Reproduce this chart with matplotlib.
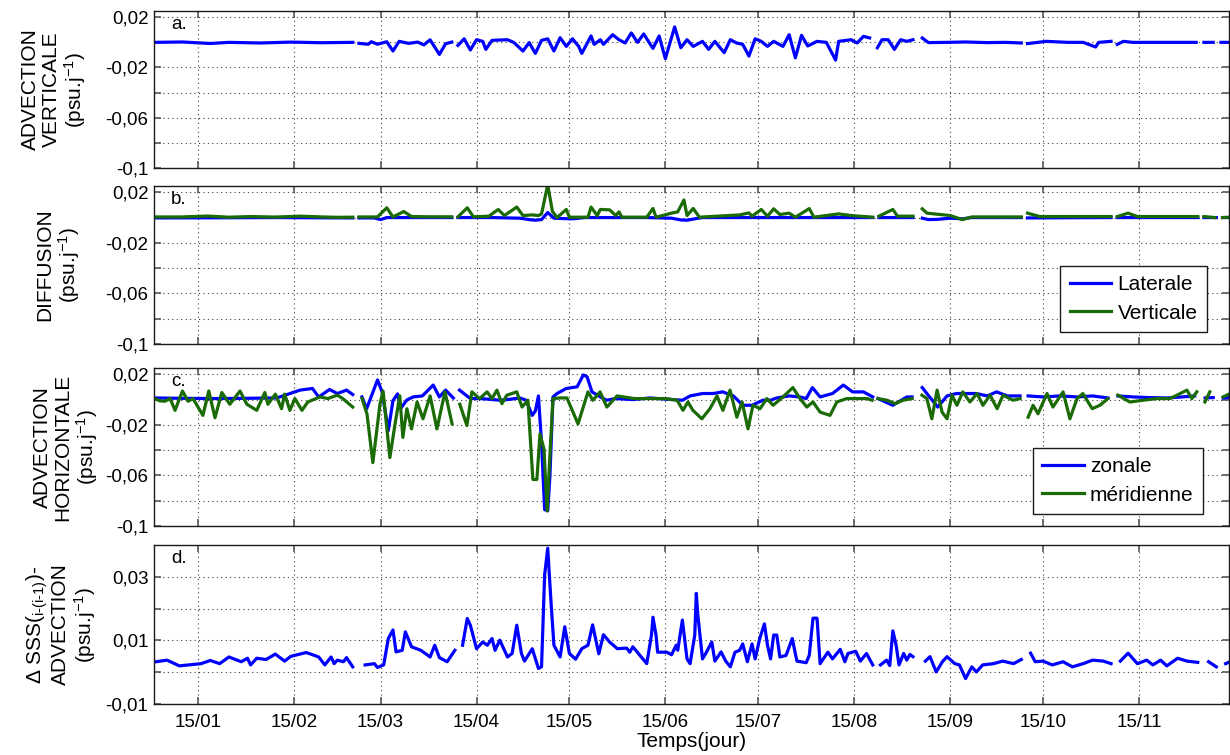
import numpy as np
import matplotlib
matplotlib.use("Agg")
import matplotlib.pyplot as plt

plt.rcParams['font.family'] = ['Liberation Sans', 'DejaVu Sans']
plt.rcParams['mathtext.default'] = 'regular'

nan = np.nan

# x axis: day of year, ticks on the 15th of each month
tick_days = [15, 46, 74, 105, 135, 166, 196, 227, 258, 288, 319]
tick_labels = ['15/01', '15/02', '15/03', '15/04', '15/05', '15/06',
               '15/07', '15/08', '15/09', '15/10', '15/11']

# ---------------------------
# a. vertical advection (day, psu/day), nan = missing days
# ---------------------------
adv_vert = [
    (1, 0), (10, 0.0003), (19, -0.0009), (25, 0), (35, -0.0005), (45, 0.0002), (55, -0.0003), (65, 0), (66, nan),
    (67, -0.0008), (70, -0.0015), (71, 0.0005), (73, -0.0015), (76, 0.0005), (78, -0.0069), (80, 0.0008),
    (83, -0.0008), (86, 0.0002), (88, -0.002), (90, 0.002), (93, -0.0096), (95, -0.0011), (97, 0.0002), (98, nan),
    (99, -0.0024), (101, 0.0028), (103, -0.0061), (105, 0.0021), (107, 0.0008), (108, -0.0056), (110, 0.0016),
    (115, 0.0021), (117, 0), (120, -0.0069), (122, -0.0002), (124, -0.0088), (126, 0.0016), (128, 0.0028),
    (130, -0.0069), (132, 0.0037), (134, -0.0032), (136, 0.0028), (138, -0.0032), (139, -0.0088), (142, 0.0051),
    (143, -0.0016), (145, 0.0021), (146, -0.0016), (149, 0.0061), (151, 0.0021), (153, -0.0005), (155, 0.0075),
    (157, 0), (159, 0.0067), (162, -0.0048), (164, 0.0051), (166, -0.013), (169, 0.0123), (171, -0.0043),
    (173, 0.0021), (175, -0.0032), (178, 0.0008), (180, -0.0056), (182, 0.0008), (185, -0.0082), (187, 0.0021),
    (189, -0.0005), (191, -0.0016), (193, -0.0109), (195, 0.0028), (197, 0.0008), (199, -0.0032), (201, 0.0008),
    (204, -0.0032), (206, 0.0061), (208, -0.0123), (210, 0.0056), (212, -0.0029), (215, 0.0008), (218, 0),
    (221, -0.0141), (222, 0.0008), (226, 0.0021), (228, -0.0005), (230, 0.0048), (232, 0.0035), (233.5, nan),
    (234.5, -0.0043), (236, 0.0021), (238, 0.0021), (240, -0.0056), (242, 0.0021), (244, 0.0008), (246, 0.0021), (247, nan),
    (249, 0.0035), (251, -0.0002), (257, 0), (263, 0.0003), (270, -0.0002), (276, 0), (281, -0.0005), (282, nan),
    (283, -0.001), (289, 0.0008), (296, 0), (301, 0), (305, -0.0037), (306, 0), (310, 0.0008), (311, nan),
    (312, -0.0016), (314, 0.0008), (317, 0), (324, 0), (330, 0), (337.5, 0), (338.5, nan),
    (340, 0), (343, 0), (344.5, nan), (345.5, 0), (348.5, 0),
]

# ---------------------------
# b. diffusion
# ---------------------------
diff_lat = [
    (1, -0.0003), (20, -0.0002), (40, 0), (55, -0.0002), (65, -0.0003), (66, nan),
    (67, -0.0003), (72, -0.0003), (74, -0.0016), (76, 0), (90, 0), (97, 0), (98, nan),
    (99, 0), (110, 0), (119, -0.0005), (122, -0.0016), (124, -0.0021), (126, -0.0016), (128, 0.004),
    (130, -0.0005), (135, -0.001), (137, -0.0008), (140, 0), (160, 0), (168, -0.0005), (171, -0.0019),
    (173, -0.0021), (176, -0.0008), (178, 0), (200, 0), (215, 0), (233, 0), (233.5, nan),
    (235, 0), (246, 0), (247, nan), (249, -0.0005), (251, -0.0016), (254, -0.0014), (258, -0.0005),
    (262, -0.001), (265, 0), (281, 0), (282, nan), (283, -0.0003), (310, 0), (311, nan),
    (312, 0), (338, 0), (338.5, nan), (340, 0), (344, 0), (344.5, nan), (346, 0), (348.5, 0),
]
diff_vert = [
    (1, 0.0005), (10, 0.0005), (18, 0.0012), (25, 0.0003), (32, 0.0008), (40, 0.0004), (48, 0.0011),
    (55, 0.0005), (60, 0.0002), (65, 0.0003), (66, nan),
    (67, 0.0005), (73, 0.0005), (76, 0.0077), (78, 0.0005), (81.5, 0.0048), (84, 0.0008), (90, 0.0006),
    (97, 0.0006), (98, nan),
    (99, 0.0006), (102, 0.0077), (104, 0.0006), (109, 0.0011), (112, 0.0064), (114, 0.0016), (118, 0.0083),
    (120, 0.0016), (123, 0.0021), (125, 0.0016), (126, 0.0029), (128, 0.0259), (129.5, 0.005), (131, 0),
    (134, 0.0064), (135, 0.0003), (141, 0.0003), (142, 0.0083), (144, 0.0016), (145, 0.0064), (148, 0.0061),
    (150, 0.0016), (151, 0.0045), (152, 0.0003), (160, 0.0003), (162, 0.0072), (163, 0.0003), (168, 0.0035),
    (170, 0.0045), (172, 0.0139), (173, 0.0016), (175, 0.0072), (177, 0.0003), (190, 0.0021), (193, 0.0037),
    (194, 0.0011), (197, 0.0064), (199, 0.0011), (201, 0.0069), (203, 0.0024), (206, 0.0035), (208, 0.0003),
    (212.5, 0.0071), (214, 0.0003), (222, 0.0029), (226, 0.0016), (233, 0.0003), (233.5, nan),
    (235, 0.0011), (239.5, 0.0064), (241, 0.0011), (246, 0.0011), (247, nan),
    (249, 0.0069), (250.5, 0.0035), (258, 0.0016), (262, -0.0016), (265, 0.0005), (281, 0.0005), (282, nan),
    (283, 0.0035), (287, 0.0008), (310, 0.0008), (311, nan),
    (312, 0.0008), (315.5, 0.0035), (318.5, 0.0008), (338, 0.0008), (338.5, nan),
    (340, 0.0008), (343.5, 0), (344.5, nan), (346, 0), (348.5, 0.0003),
]

# ---------------------------
# c. horizontal advection
# ---------------------------
adv_zon = [
    (1, 0.0013), (10, 0.001), (20, 0.0008), (30, 0.001), (40.5, 0.0013), (48, 0.0075), (52, 0.0088),
    (54, 0.002), (57.5, 0.008), (60, 0.0048), (63, 0.0075), (65, 0.004), (66.5, nan),
    (68, 0.0021), (69.5, -0.0072), (73, 0.0155), (74.5, 0.0061), (76.5, -0.0245), (78, -0.0008),
    (79.5, 0.0045), (80.5, -0.007), (82.5, -0.0003), (84.5, 0.0021), (87.5, 0.0029), (91, 0.0115),
    (93, 0.0021), (95, 0.0075), (97.5, 0.0013), (98.5, nan),
    (99.5, 0.0075), (103, 0.0008), (106, 0.0008), (109, 0.0003), (112.5, -0.0005), (116, 0.0003),
    (119, 0.0013), (121, -0.0005), (123, -0.0125), (124, -0.009), (125, 0.0029), (126, -0.0339),
    (127, -0.087), (128, -0.088), (128.7, -0.061), (129.7, 0.0021), (131, 0.0048), (134, 0.0088),
    (137.5, 0.0101), (139.5, 0.0195), (140.7, 0.0181), (142.3, 0.0061), (145, 0.0021), (147, -0.0005),
    (150, 0.0008), (155.5, 0), (161, 0.0013), (166.5, 0.0003), (171.5, -0.0005), (174, 0.0029),
    (178, 0.0048), (181.5, 0.0048), (184.5, 0.0061), (188, 0.0029), (191, -0.0045), (194, -0.0045),
    (197.5, -0.0005), (200, -0.0005), (202, 0.0013), (206, 0.0029), (209.5, 0.0021), (211.5, 0.0008),
    (213.5, 0.0095), (216, 0.0021), (220, 0.0048), (223.5, 0.0115), (226.5, 0.0061), (230, 0.0061),
    (233, 0.0021), (233.8, nan),
    (234.7, 0.0008), (239.5, -0.0045), (244, 0.0021), (245.7, 0.0021), (247, nan),
    (249, 0.0095), (250.5, 0.0048), (254, -0.0059), (257, 0.0029), (260, 0.0048), (263.5, 0.0048),
    (266.5, 0.0048), (270, 0.0029), (273, 0.0061), (276.5, 0.0029), (280.6, 0.0029), (282, nan),
    (283.2, 0.0029), (288, 0.0021), (293.5, 0.0029), (299, 0.0021), (304, 0.0029), (309, 0.0013), (310.5, nan),
    (312.2, 0.0029), (317, 0.0021), (322.5, 0.0016), (328, 0.0013), (333, 0.0021), (337, 0.0029), (338.5, nan),
    (340.4, 0.0013), (343, 0.0016), (344.5, nan), (346.2, 0.0013), (348.5, 0.0016),
]
adv_mer = [
    (1, 0.0008), (2.7, -0.001), (4.3, -0.0013), (6, 0.0008), (7.6, -0.0085), (10, 0.0068), (11.8, -0.0013),
    (13.4, 0.0008), (16.6, -0.0125), (18.5, 0.0068), (20.5, -0.0144), (22.7, 0.0056), (25.3, -0.0037),
    (28.6, 0.0068), (30.8, -0.0037), (34, -0.0085), (36.6, 0.0056), (37.6, -0.0037), (40, 0.0043),
    (42, -0.0072), (43, 0.0043), (44.7, -0.0085), (46.3, 0.0008), (48.6, -0.0085), (50.5, -0.0019),
    (54.4, 0.0021), (57, 0.0008), (60, 0.0035), (61.8, 0.0008), (65, -0.0059), (66.5, nan),
    (68, 0.0008), (69.6, -0.0112), (71.5, -0.0499), (73.8, -0.0037), (74.8, 0.0068), (77, -0.0459),
    (78.6, -0.0205), (80.2, 0.003), (81.2, -0.0299), (82.5, -0.0072), (84, -0.0232), (85.8, -0.0019),
    (87.7, -0.0152), (90, 0.0029), (92.2, -0.0232), (94.8, 0.0061), (97.1, -0.0192), (98.5, nan),
    (99.6, -0.0037), (101.9, -0.0205), (103.5, 0.0061), (106, 0.0008), (108.4, 0.0061), (110, 0.0008),
    (111.6, 0.0075), (113.2, -0.0032), (114.8, 0.0035), (118, 0.0061), (119.7, -0.0059), (121.6, -0.0005),
    (123.2, -0.0632), (124.5, -0.0632), (125.5, -0.0272), (126.8, -0.0392), (127.8, -0.088), (128.7, -0.0445),
    (129.7, 0.0008), (132, 0.0013), (134.2, 0.0013), (137.8, -0.0192), (141, 0.0061), (142.6, -0.0005),
    (144.9, 0.0061), (147.1, -0.0059), (150.4, 0.0029), (156, 0.0008), (161, 0.0008), (166, 0.0008),
    (169.8, -0.0005), (171.7, -0.0085), (173.3, -0.0019), (174.9, -0.0085), (177.8, -0.0152), (180.4, -0.0072),
    (182.7, 0.0029), (184.6, -0.0085), (186.9, 0.0075), (189.1, -0.0139), (190.8, -0.0019), (192.7, -0.0232),
    (194.3, -0.0045), (196.6, -0.0072), (198.8, 0.0008), (200.8, -0.0045), (204, 0.0021), (207.2, 0.0095),
    (209.5, 0.0008), (211.7, -0.0059), (213.7, -0.0019), (216, -0.0099), (219.2, -0.0125), (221.4, -0.0019),
    (224.6, 0.0008), (227.9, 0.0008), (231.1, 0.0008), (232.8, -0.0005), (233.8, nan),
    (234.7, 0.0008), (237.6, -0.0005), (240.2, -0.0032), (242.8, -0.0005), (245.7, 0.0008), (247, nan),
    (248.9, 0.0035), (250.5, 0.0008), (252.1, -0.0152), (253.8, 0.0075), (255.4, -0.0099), (257, -0.0152),
    (258.6, 0.0035), (260.2, -0.0045), (262.1, 0.0061), (264.4, -0.0019), (266.7, 0.0048), (268.6, -0.0045),
    (270.9, 0.0035), (273.2, -0.0072), (275.1, 0.0035), (278.3, -0.0005), (280.6, 0.0008), (282, nan),
    (283.2, -0.0139), (284.8, -0.0045), (286.4, -0.0112), (289.3, 0.0048), (291.2, -0.0059), (294.5, 0.0061),
    (296.7, -0.0152), (299, 0.0008), (300.9, 0.0048), (303.9, -0.0072), (306.4, -0.0045), (309, 0.0008), (310.5, nan),
    (312.2, 0.0035), (316.1, -0.0019), (320.3, -0.0005), (324.8, 0.0008), (329, 0.0008), (331.3, 0.0035),
    (334.5, 0.0075), (336.1, 0.0008), (337.7, 0.0061), (338.8, nan),
    (340.3, -0.0019), (341.9, 0.0061), (344, nan), (346.2, 0.0021), (348.5, 0.0048),
]

# ---------------------------
# d. delta SSS minus advection
# ---------------------------
dsss_adv = [
    (1.4, 0.0033), (5, 0.0038), (9, 0.002), (16, 0.0027), (19, 0.0037), (22, 0.0027), (25, 0.0048),
    (29, 0.0033), (31, 0.0044), (32, 0.0023), (34, 0.0044), (37, 0.004), (40, 0.0057), (43, 0.0035),
    (45, 0.005), (50, 0.0062), (54, 0.0048), (56, 0.0023), (58, 0.0048), (59, 0.0027), (60, 0.0038),
    (62, 0.0033), (63, 0.0046), (65, 0.0017), (66, nan),
    (69, 0.0023), (72, 0.0027), (73, 0.0015), (75, 0.0023), (76.5, 0.0106), (78, 0.0133), (79, 0.0064),
    (81, 0.0069), (82, 0.0127), (84, 0.008), (87, 0.0069), (90, 0.0048), (91.5, 0.0085), (93, 0.0046),
    (95.5, 0.0033), (98, 0.0069), (99, nan),
    (100.5, 0.0085), (102, 0.0169), (103, 0.0148), (105, 0.0074), (107, 0.0095), (108.5, 0.0085),
    (110, 0.0106), (111, 0.0069), (112.5, 0.0101), (115, 0.0048), (116.5, 0.0059), (118, 0.0148),
    (119.5, 0.0059), (120.5, 0.0035), (123, 0.0074), (125, 0.0012), (126, 0.0017), (127, 0.0306),
    (128, 0.039), (129, 0.023), (130, 0.0085), (132, 0.0048), (133.5, 0.0143), (135, 0.0059), (137, 0.0041),
    (139, 0.0074), (141, 0.0085), (142.5, 0.0149), (144.5, 0.0058), (146, 0.0118), (148, 0.0095),
    (150.5, 0.0074), (153.5, 0.0076), (154.5, 0.0063), (155.5, 0.008), (160, 0.0027), (161.5, 0.0116),
    (162, 0.0173), (163, 0.0116), (163.5, 0.0063), (166.5, 0.0063), (168, 0.0055), (169.5, 0.0085),
    (170, 0.0069), (171.5, 0.0164), (173, 0.0042), (174, 0.0027), (175.5, 0.0116), (176, 0.0248),
    (176.5, 0.018), (178, 0.0042), (179, 0.0058), (181, 0.0095), (182, 0.0035), (184, 0.0064),
    (185.5, 0.0035), (187, 0.0017), (188.5, 0.0063), (190, 0.0069), (191, 0.0089), (192.5, 0.0033),
    (194, 0.0089), (195, 0.0042), (196.5, 0.0106), (198, 0.0152), (199, 0.0085), (200, 0.0042),
    (201, 0.0117), (202, 0.0117), (203, 0.0048), (205, 0.0053), (207, 0.0106), (208.5, 0.0035),
    (211.5, 0.003), (212.5, 0.0053), (213.7, 0.017), (215, 0.017), (216, 0.0027), (218.5, 0.0063),
    (220, 0.0042), (222.5, 0.0072), (224, 0.0033), (225, 0.0059), (227.5, 0.0066), (229, 0.0035),
    (231, 0.0059), (233, 0.0023), (234, nan),
    (235.5, 0.0023), (237.5, 0.0038), (238.5, 0.0021), (239.5, 0.013), (240.5, 0.0088), (241.5, 0.0023),
    (243, 0.0059), (244, 0.0038), (245, 0.0056), (246, 0.0049), (248, nan),
    (250, 0.0035), (251.5, 0.0049), (253.5, 0.0001), (255.5, 0.0033), (257, 0.0049), (259.5, 0.0027),
    (261, 0.0023), (263, -0.002), (265, 0.0017), (266.5, 0.0001), (268.5, 0.0023), (272, 0.0027),
    (275, 0.0035), (278.5, 0.0027), (281, 0.004), (282.5, nan),
    (284, 0.006), (285.5, 0.0033), (288, 0.0035), (291, 0.0023), (294.5, 0.0033), (297.5, 0.0017),
    (301, 0.0027), (304, 0.0038), (307.5, 0.0035), (310, 0.0027), (311.5, nan),
    (313, 0.0035), (315.5, 0.006), (318.5, 0.0027), (321.5, 0.0038), (323.5, 0.0023), (326, 0.0038),
    (328, 0.002), (331.5, 0.0044), (334.5, 0.0035), (338, 0.0031), (339.5, nan),
    (341.5, 0.0033), (344, 0.0017), (345.5, nan), (347, 0.0027), (348.5, 0.0033),
]

BLUE = '#0000ff'
GREEN = '#1a6b05'
LW = 2.3


def xy(series):
    arr = np.array(series, dtype=float)
    return arr[:, 0], arr[:, 1]


def style_axis(ax, ylim, yticks, ylabels, bottom=False):
    ax.set_xlim(0.8, 348.1)
    ax.set_ylim(*ylim)
    ax.set_xticks(tick_days)
    ax.set_xticklabels(tick_labels if bottom else [])
    ax.set_yticks(yticks)
    ax.set_yticklabels(ylabels)
    ax.tick_params(direction='in', top=True, right=True, length=5, width=1.2,
                   color='0.35', labelsize=13.5, pad=4)
    ax.tick_params(axis='x', pad=7)
    ax.grid(True, linestyle=(0, (1, 3)), color='0.25', lw=0.8)
    for sp in ax.spines.values():
        sp.set_color('0.1')
        sp.set_linewidth(1.0)


fig = plt.figure(figsize=(12.3, 7.55), dpi=100)
W = 1075 / 1230
L = 154 / 1230
ax_a = fig.add_axes([L, 0.7775, W, 0.2080])
ax_b = fig.add_axes([L, 0.5444, W, 0.2093])
ax_c = fig.add_axes([L, 0.3033, W, 0.2093])
ax_d = fig.add_axes([L, 0.0675, W, 0.2106])

yt = [-0.1, -0.08, -0.06, -0.04, -0.02, 0, 0.02]
ytl = ['-0,1', '', '-0,06', '', '-0,02', '', '0,02']

# a.
x, y = xy(adv_vert)
ax_a.plot(x, y, color=BLUE, lw=LW)
style_axis(ax_a, (-0.1, 0.025), yt, ytl)
ax_a.set_ylabel('ADVECTION\nVERTICALE\n(psu.j$^{-1}$)', fontsize=15, linespacing=1.1)
ax_a.yaxis.set_label_coords(-0.061, 0.5)

# b.
x, y = xy(diff_lat)
ax_b.plot(x, y, color=BLUE, lw=LW, label='Laterale')
x, y = xy(diff_vert)
ax_b.plot(x, y, color=GREEN, lw=LW, label='Verticale')
style_axis(ax_b, (-0.1, 0.025), yt, ytl)
ax_b.set_ylabel('DIFFUSION\n(psu.j$^{-1}$)', fontsize=15, linespacing=1.1)
ax_b.yaxis.set_label_coords(-0.067, 0.5)

# c.
x, y = xy(adv_zon)
ax_c.plot(x, y, color=BLUE, lw=LW, label='zonale')
x, y = xy(adv_mer)
ax_c.plot(x, y, color=GREEN, lw=LW, label='méridienne')
style_axis(ax_c, (-0.1, 0.025), yt, ytl)
ax_c.set_ylabel('ADVECTION\nHORIZONTALE\n(psu.j$^{-1}$)', fontsize=15, linespacing=1.1)
ax_c.yaxis.set_label_coords(-0.050, 0.5)

# d.
x, y = xy(dsss_adv)
ax_d.plot(x, y, color=BLUE, lw=LW)
style_axis(ax_d, (-0.01, 0.04), [-0.01, 0, 0.01, 0.02, 0.03],
           ['-0,01', '', '0,01', '', '0,03'], bottom=True)
ax_d.set_ylabel('Δ SSS($_{i\u2010(i\u20101)}$)-\nADVECTION\n(psu.j$^{-1}$)', fontsize=15, linespacing=1.1)
ax_d.yaxis.set_label_coords(-0.052, 0.5)
ax_d.set_xlabel('Temps(jour)', fontsize=15, labelpad=1)

for ax, lab in zip([ax_a, ax_b, ax_c, ax_d], ['a.', 'b.', 'c.', 'd.']):
    ax.text(0.016, 0.915, lab, transform=ax.transAxes, fontsize=13.5, va='center', ha='left')

leg_kw = dict(loc='lower right', borderaxespad=0, fancybox=False, framealpha=1,
              edgecolor='0.1', fontsize=15, handlelength=2.0, handletextpad=0.3,
              borderpad=0.45, labelspacing=0.45)
lg = ax_b.legend(bbox_to_anchor=(0.9795, 0.076), **leg_kw)
lg.get_frame().set_linewidth(1.0)
lg = ax_c.legend(bbox_to_anchor=(0.9758, 0.076), **leg_kw)
lg.get_frame().set_linewidth(1.0)

fig.savefig('out.png', dpi=100)
